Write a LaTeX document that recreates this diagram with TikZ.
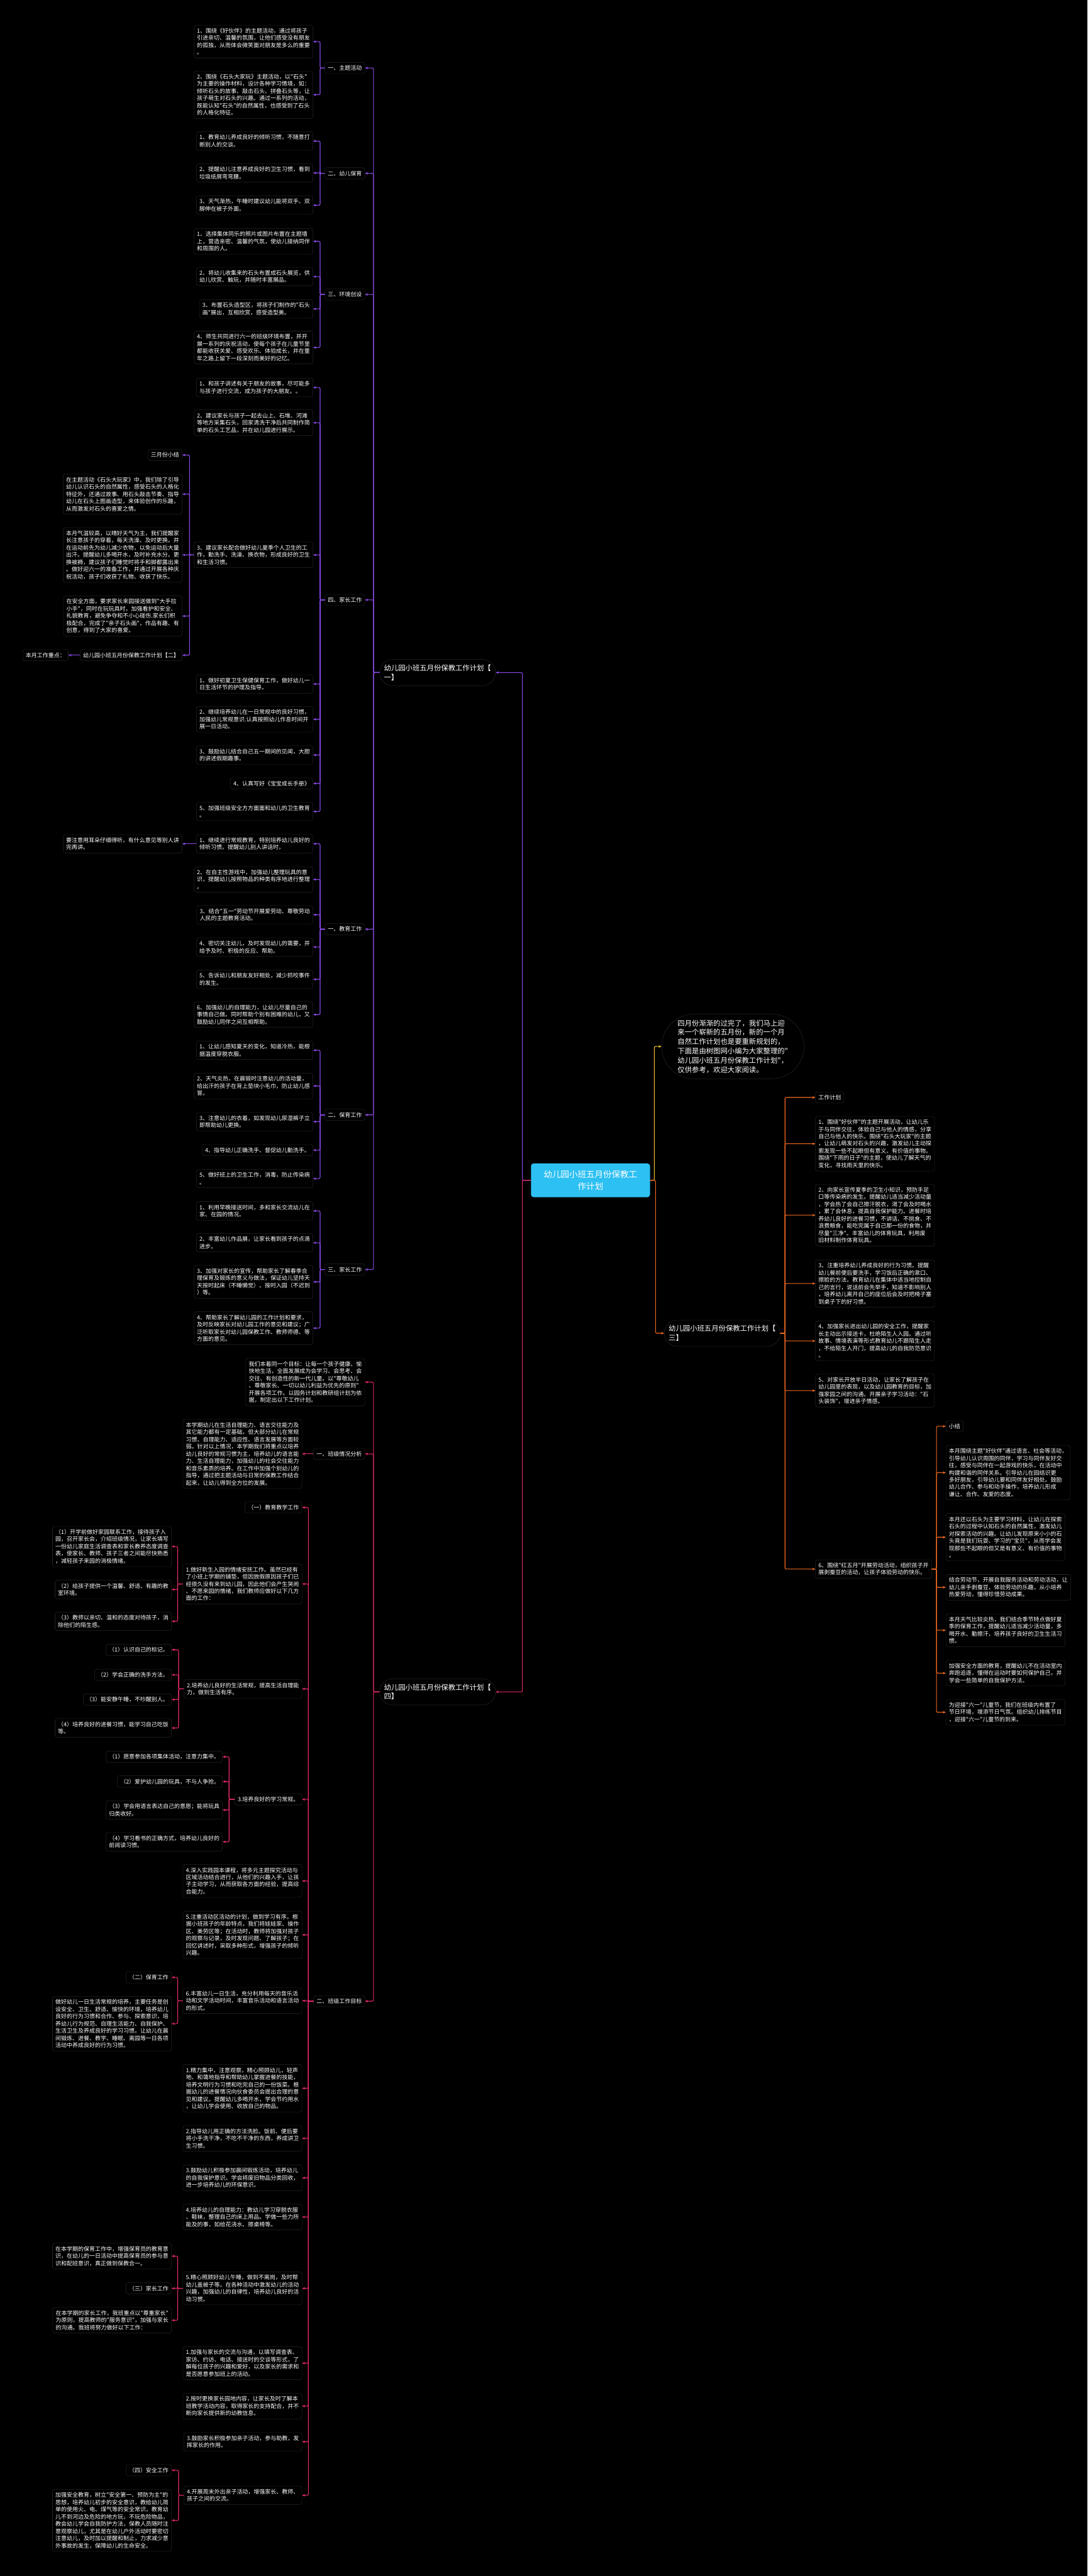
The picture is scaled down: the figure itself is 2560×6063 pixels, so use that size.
\documentclass[tikz,border=0pt]{standalone}
\usepackage{fontspec}
\newfontfamily\cjk{Noto Sans CJK SC}
\usetikzlibrary{arrows.meta,shapes.misc}
\definecolor{pur}{HTML}{8A4BE8}
\definecolor{pnk}{HTML}{E5286E}
\definecolor{org}{HTML}{F26A21}
\definecolor{yel}{HTML}{F5C32C}
\definecolor{cya}{HTML}{2DC0F2}
\definecolor{bord}{HTML}{262626}
\begin{document}
\begin{tikzpicture}[x=1pt,y=-1pt,
  tbox/.style={draw=bord, line width=0.8pt, fill=black, rounded corners=5pt, text=white,
    font=\cjk\fontsize{13.3}{17}\selectfont, align=left, inner xsep=7pt, inner ysep=7pt},
  pill/.style={shape=rounded rectangle, draw=bord, line width=0.8pt, fill=black, text=white,
    font=\cjk\fontsize{16.8}{22}\selectfont, align=left, inner xsep=4pt, inner ysep=12pt},
  rootbox/.style={fill=cya, rounded corners=6pt, text=white,
    font=\cjk\fontsize{20}{27}\selectfont, align=center, inner xsep=30pt, inner ysep=17pt},
  conn/.style={line width=1.6pt, rounded corners=3pt, -{Stealth[length=7pt,width=6pt]}},
  cp/.style={conn, draw=pur},
  ck/.style={conn, draw=pnk},
  co/.style={conn, draw=org},
  cy/.style={conn, draw=yel}]
\useasboundingbox (0,0) rectangle (2560,6063);
\fill[black] (0,0) rectangle (2560,6063);

% ---------- root ----------
\node[rootbox, anchor=east] (root) at (1530,2778) {幼儿园小班五月份保教工\\作计划};

% ---------- branch one ----------
\node[pill, anchor=west] (one) at (893,1583) {幼儿园小班五月份保教工作计划【\\一】};
\node[tbox, anchor=east] (L1) at (859,160) {一、主题活动};
\node[tbox, anchor=east] (L2) at (859,408) {二、幼儿保育};
\node[tbox, anchor=east] (L3) at (859,693) {三、环境创设};
\node[tbox, anchor=east] (L4) at (859,1412) {四、家长工作};
\node[tbox, anchor=east] (L5) at (859,2187) {一、教育工作};
\node[tbox, anchor=east] (L6) at (859,2624) {二、保育工作};
\node[tbox, anchor=east] (L7) at (859,2988) {三、家长工作};

\node[tbox, anchor=east] (a1) at (737,98) {1、围绕《好伙伴》的主题活动，通过将孩子\\引进亲切、温馨的氛围，让他们感受没有朋友\\的孤独，从而体会微笑面对朋友是多么的重要\\。};
\node[tbox, anchor=east] (a2) at (737,223) {2、围绕《石头大家玩》主题活动，以"石头"\\为主要的操作材料，设计各种学习情境，如：\\倾听石头的故事、敲击石头、拼叠石头等，让\\孩子萌生对石头的兴趣。通过一系列的活动，\\既能认知"石头"的自然属性，也感受到了石头\\的人格化特征。};
\node[tbox, anchor=east] (b1) at (737,332) {1、教育幼儿养成良好的倾听习惯，不随意打\\断别人的交谈。};
\node[tbox, anchor=east] (b2) at (737,407) {2、提醒幼儿注意养成良好的卫生习惯，看到\\垃圾纸屑弯弯腰。};
\node[tbox, anchor=east] (b3) at (737,483) {3、天气渐热，午睡时建议幼儿能将双手、双\\脚伸在被子外面。};
\node[tbox, anchor=east] (c1) at (737,568) {1、选择集体同乐的照片或图片布置在主题墙\\上，营造亲密、温馨的气氛，使幼儿接纳同伴\\和周围的人。};
\node[tbox, anchor=east] (c2) at (737,651) {2、将幼儿收集来的石头布置成石头展览，供\\幼儿欣赏、触玩，并随时丰富展品。};
\node[tbox, anchor=east] (c3) at (737,727) {3、布置石头造型区，将孩子们制作的"石头\\画"展出，互相欣赏，感受造型美。};
\node[tbox, anchor=east] (c4) at (737,818) {4、师生共同进行六一的班级环境布置，并开\\展一系列的庆祝活动，使每个孩子在儿童节里\\都能收获关爱、感受欢乐、体验成长，并在童\\年之路上留下一段深刻而美好的记忆。};
\node[tbox, anchor=east] (d1) at (737,912) {1、和孩子讲述有关于朋友的故事，尽可能多\\与孩子进行交流，成为孩子的大朋友。。};
\node[tbox, anchor=east] (d2) at (737,995) {2、建议家长与孩子一起去山上、石堆、河滩\\等地方采集石头，回家清洗干净后共同制作简\\单的石头工艺品，并在幼儿园进行展示。};
\node[tbox, anchor=east] (d3) at (737,1306) {3、建议家长配合做好幼儿夏季个人卫生的工\\作，勤洗手、洗澡、换衣物，形成良好的卫生\\和生活习惯。};
\node[tbox, anchor=east] (d4) at (737,1610) {1、做好初夏卫生保健保育工作，做好幼儿一\\日生活环节的护理及指导。};
\node[tbox, anchor=east] (d5) at (737,1693) {2、继续培养幼儿在一日常规中的良好习惯，\\加强幼儿常规意识.认真按照幼儿作息时间开\\展一日活动。};
\node[tbox, anchor=east] (d6) at (737,1777) {3、鼓励幼儿结合自己五一期间的见闻，大胆\\的讲述假期趣事。};
\node[tbox, anchor=east] (d7) at (737,1844) {4、认真写好《宝宝成长手册》};
\node[tbox, anchor=east] (d8) at (737,1910) {5、加强班级安全方方面面和幼儿的卫生教育\\。};

\node[tbox, anchor=east] (e0) at (429,1071) {三月份小结};
\node[tbox, anchor=east] (e1) at (429,1163) {在主题活动《石头大玩家》中，我们除了引导\\幼儿认识石头的自然属性，感受石头的人格化\\特征外，还通过故事、用石头敲击节奏、指导\\幼儿在石头上图画造型，来体验创作的乐趣，\\从而激发对石头的喜爱之情。};
\node[tbox, anchor=east] (e2) at (429,1306) {本月气温较高，以晴好天气为主，我们提醒家\\长注意孩子的穿着，每天洗澡、及时更换。并\\在运动前先为幼儿减少衣物，以免运动后大量\\出汗。提醒幼儿多喝开水，及时补充水分。更\\换被褥，建议孩子们睡觉时将手和脚都露出来\\。做好迎六一的准备工作，并通过开展各种庆\\祝活动，孩子们收获了礼物、收获了快乐。};
\node[tbox, anchor=east] (e3) at (429,1450) {在安全方面，要求家长来园接送做到"大手拉\\小手"，同时在玩玩具时，加强看护和安全、\\礼貌教育，避免争夺和不小心碰伤.家长们积\\极配合，完成了"亲子石头画"，作品有趣、有\\创意，得到了大家的喜爱。};
\node[tbox, anchor=east] (e4) at (429,1542) {幼儿园小班五月份保教工作计划【二】};
\node[tbox, anchor=east] (e5) at (161,1542) {本月工作重点：};

\node[tbox, anchor=east] (f1) at (737,1986) {1、继续进行常规教育，特别培养幼儿良好的\\倾听习惯。提醒幼儿别人讲话时，};
\node[tbox, anchor=east] (f1a) at (429,1986) {要注意用耳朵仔细得听，有什么意见等别人讲\\完再讲。};
\node[tbox, anchor=east] (f2) at (737,2070) {2、在自主性游戏中，加强幼儿整理玩具的意\\识，提醒幼儿按照物品的种类有序地进行整理\\。};
\node[tbox, anchor=east] (f3) at (737,2153) {3、结合"五一"劳动节开展爱劳动、尊敬劳动\\人民的主题教育活动。};
\node[tbox, anchor=east] (f4) at (737,2229) {4、密切关注幼儿，及时发现幼儿的需要，并\\给予及时、积极的反应、帮助。};
\node[tbox, anchor=east] (f5) at (737,2305) {5、告诉幼儿和朋友友好相处，减少抓咬事件\\的发生。};
\node[tbox, anchor=east] (f6) at (737,2388) {6、加强幼儿的自理能力，让幼儿尽量自己的\\事情自己做。同时帮助个别有困难的幼儿，又\\鼓励幼儿同伴之间互相帮助。};
\node[tbox, anchor=east] (g1) at (737,2472) {1、让幼儿感知夏天的变化，知道冷热，能根\\据温度穿脱衣服。};
\node[tbox, anchor=east] (g2) at (737,2556) {2、天气炎热，在晨锻时注意幼儿的活动量，\\给出汗的孩子在背上垫块小毛巾，防止幼儿感\\冒。};
\node[tbox, anchor=east] (g3) at (737,2640) {3、注意幼儿的衣着，如发现幼儿尿湿裤子立\\即帮助幼儿更换。};
\node[tbox, anchor=east] (g4) at (737,2707) {4、指导幼儿正确洗手、督促幼儿勤洗手。};
\node[tbox, anchor=east] (g5) at (737,2774) {5、做好班上的卫生工作，消毒，防止传染病\\。};
\node[tbox, anchor=east] (h1) at (737,2850) {1、利用早晚接送时间，多和家长交流幼儿在\\家、在园的情况。};
\node[tbox, anchor=east] (h2) at (737,2925) {2、丰富幼儿作品展，让家长看到孩子的点滴\\进步。};
\node[tbox, anchor=east] (h3) at (737,3017) {3、加强对家长的宣传，帮助家长了解春季合\\理保育及锻炼的意义与做法，保证幼儿坚持天\\天按时起床（不睡懒觉）、按时入园（不迟到\\）等。};
\node[tbox, anchor=east] (h4) at (737,3126) {4、帮助家长了解幼儿园的工作计划和要求，\\及时反映家长对幼儿园工作的意见和建议；广\\泛听取家长对幼儿园保教工作、教师师德、等\\方面的意见。};

\foreach \c in {L1,L2,L3,L4,L5,L6,L7} \draw[cp] (one.west) -- ++(-14,0) |- (\c.east);
\foreach \c in {a1,a2} \draw[cp] (L1.west) -- ++(-11,0) |- (\c.east);
\foreach \c in {b1,b2,b3} \draw[cp] (L2.west) -- ++(-11,0) |- (\c.east);
\foreach \c in {c1,c2,c3,c4} \draw[cp] (L3.west) -- ++(-11,0) |- (\c.east);
\foreach \c in {d1,d2,d3,d4,d5,d6,d7,d8} \draw[cp] (L4.west) -- ++(-11,0) |- (\c.east);
\foreach \c in {e0,e1,e2,e3,e4} \draw[cp] (d3.west) -- ++(-10,0) |- (\c.east);
\draw[cp] (e4.west) -- (e5.east);
\draw[cp] (f1.west) -- (f1a.east);
\foreach \c in {f1,f2,f3,f4,f5,f6} \draw[cp] (L5.west) -- ++(-11,0) |- (\c.east);
\foreach \c in {g1,g2,g3,g4,g5} \draw[cp] (L6.west) -- ++(-11,0) |- (\c.east);
\foreach \c in {h1,h2,h3,h4} \draw[cp] (L7.west) -- ++(-11,0) |- (\c.east);

% ---------- branch four ----------
\node[pill, anchor=west] (four) at (893,3982) {幼儿园小班五月份保教工作计划【\\四】};
\node[tbox, anchor=east] (p0) at (859,3253) {我们本着同一个目标：让每一个孩子健康、愉\\快地生活，全面发展成为会学习、会思考、会\\交往、有创造性的新一代儿童。以"尊敬幼儿\\、尊敬家长、一切以幼儿利益为优先的原则"\\开展各项工作。以园务计划和教研组计划为依\\据，制定出以下工作计划。};
\node[tbox, anchor=east] (p1) at (859,3422) {一、班级情况分析};
\node[tbox, anchor=east] (p1a) at (711,3422) {本学期幼儿在生活自理能力、语言交往能力及\\其它能力都有一定基础，但大部分幼儿在常规\\习惯、自理能力、适应性、语言发展等方面较\\弱。针对以上情况，本学期我们将重点以培养\\幼儿良好的常规习惯为主，培养幼儿的语言能\\力、生活自理能力，加强幼儿的社会交往能力\\和音乐素质的培养。在工作中加强个别幼儿的\\指导，通过把主题活动与日常的保教工作结合\\起来，让幼儿得到全方位的发展。};
\node[tbox, anchor=east] (p2) at (859,4710) {二、班级工作目标};

\node[tbox, anchor=east] (q0) at (711,3548) {（一）教育教学工作};
\node[tbox, anchor=east] (q1) at (711,3728) {1.做好新生入园的情绪安抚工作。虽然已经有\\了小班上学期的铺垫，但因放假原因孩子们已\\经很久没有来到幼儿园，因此他们会产生哭闹\\、不愿来园的情绪，我们教师应做好以下几方\\面的工作：};
\node[tbox, anchor=east] (q1a) at (404,3640) {（1）开学前做好家园联系工作，接待孩子入\\园，召开家长会，介绍班级情况，让家长填写\\一份幼儿家庭生活调查表和家长教养态度调查\\表，使家长、教师、孩子三者之间能尽快熟悉\\，减轻孩子来园的消极情绪。};
\node[tbox, anchor=east] (q1b) at (404,3741) {（2）给孩子提供一个温馨、舒适、有趣的教\\室环境。};
\node[tbox, anchor=east] (q1c) at (404,3816) {（3）教师以亲切、温和的态度对待孩子，消\\除他们的陌生感。};
\node[tbox, anchor=east] (q2) at (711,3975) {2.培养幼儿良好的生活常规，提高生活自理能\\力，做到生活有序。};
\node[tbox, anchor=east] (q2a) at (404,3883) {（1）认识自己的标记。};
\node[tbox, anchor=east] (q2b) at (404,3942) {（2）学会正确的洗手方法。};
\node[tbox, anchor=east] (q2c) at (404,4000) {（3）能安静午睡，不吵醒别人。};
\node[tbox, anchor=east] (q2d) at (404,4067) {（4）培养良好的进餐习惯，能学习自己吃饭\\等。};
\node[tbox, anchor=east] (q3) at (711,4235) {3.培养良好的学习常规。};
\node[tbox, anchor=east] (q3a) at (524,4135) {（1）愿意参加各项集体活动，注意力集中。};
\node[tbox, anchor=east] (q3b) at (524,4193) {（2）爱护幼儿园的玩具，不与人争抢。};
\node[tbox, anchor=east] (q3c) at (524,4260) {（3）学会用语言表达自己的意愿；能将玩具\\归类收好。};
\node[tbox, anchor=east] (q3d) at (524,4335) {（4）学习看书的正确方式，培养幼儿良好的\\前阅读习惯。};
\node[tbox, anchor=east] (q4) at (711,4427) {4.深入实践园本课程，将多元主题探究活动与\\区域活动结合进行，从他们的兴趣入手，让孩\\子主动学习，从而获取各方面的经验，提高综\\合能力。};
\node[tbox, anchor=east] (q5) at (711,4554) {5.注重活动区活动的计划，做到学习有序。根\\据小班孩子的年龄特点，我们将娃娃家、操作\\区、美劳区等；在活动时，教师将加强对孩子\\的观察与记录，及时发现问题、了解孩子；在\\回忆讲述时，采取多种形式，增强孩子的倾听\\兴趣。};
\node[tbox, anchor=east] (q6) at (711,4709) {6.丰富幼儿一日生活，充分利用每天的音乐活\\动和文学活动时间，丰富音乐活动和语言活动\\的形式。};
\node[tbox, anchor=east] (q6a) at (404,4654) {（二）保育工作};
\node[tbox, anchor=east] (q6b) at (404,4763) {做好幼儿一日生活常规的培养，主要任务是创\\设安全、卫生、舒适、愉快的环境，培养幼儿\\良好的行为习惯和合作、参与、探索意识，培\\养幼儿行为规范、自理生活能力、自我保护、\\生活卫生及养成良好的学习习惯。让幼儿在晨\\间锻炼、进餐、教学、睡眠、离园等一日各项\\活动中养成良好的行为习惯。};
\node[tbox, anchor=east] (q7) at (711,4915) {1.精力集中，注意观察，精心照顾幼儿，轻声\\地、和蔼地指导和帮助幼儿掌握进餐的技能，\\培养文明行为习惯和吃完自己的一份饭菜。根\\据幼儿的进餐情况向伙食委员会提出合理的意\\见和建议。提醒幼儿多喝开水，学会节约用水\\，让幼儿学会使用、收放自己的物品。};
\node[tbox, anchor=east] (q8) at (711,5033) {2.指导幼儿用正确的方法洗脸。饭前、便后要\\将小手洗干净，不吃不干净的东西，养成讲卫\\生习惯。};
\node[tbox, anchor=east] (q9) at (711,5126) {3.鼓励幼儿积极参加晨间锻炼活动，培养幼儿\\的自我保护意识。学会将废旧物品分类回收，\\进一步培养幼儿的环保意识。};
\node[tbox, anchor=east] (q10) at (711,5218) {4.培养幼儿的自理能力：教幼儿学习穿脱衣服\\、鞋袜，整理自己的床上用品。学做一些力所\\能及的事，如给花浇水、擦桌椅等。};
\node[tbox, anchor=east] (q11) at (711,5386) {5.精心照顾好幼儿午睡，做到不离岗，及时帮\\幼儿盖被子等。在各种活动中激发幼儿的活动\\兴趣，加强幼儿的自律性，培养幼儿良好的活\\动习惯。};
\node[tbox, anchor=east] (q11a) at (404,5310) {在本学期的保育工作中，增强保育员的教育意\\识，在幼儿的一日活动中提高保育员的参与意\\识和配班意识，真正做到保教合一。};
\node[tbox, anchor=east] (q11b) at (404,5386) {（三）家长工作};
\node[tbox, anchor=east] (q11c) at (404,5461) {在本学期的家长工作，我班重点以"尊重家长"\\为原则，提高教师的"服务意识"，加强与家长\\的沟通。我班将努力做好以下工作：};
\node[tbox, anchor=east] (q12) at (711,5562) {1.加强与家长的交流与沟通，以填写调查表、\\家访、约访、电话、接送时的交谈等形式，了\\解每位孩子的兴趣和爱好，以及家长的需求和\\是否愿意参加班上的活动。};
\node[tbox, anchor=east] (q13) at (711,5663) {2.按时更换家长园地内容，让家长及时了解本\\班教学活动内容，取得家长的支持配合，并不\\断向家长提供新的幼教信息。};
\node[tbox, anchor=east] (q14) at (711,5747) {3.鼓励家长积极参加亲子活动，参与助教，发\\挥家长的作用。};
\node[tbox, anchor=east] (q15) at (711,5873) {4.开展周末外出亲子活动，增强家长、教师、\\孩子之间的交流。};
\node[tbox, anchor=east] (q15a) at (404,5814) {（四）安全工作};
\node[tbox, anchor=east] (q15b) at (404,5932) {加强安全教育，树立"安全第一、预防为主"的\\思想，培养幼儿初步的安全意识，教给幼儿简\\单的使用火、电、煤气等的安全常识，教育幼\\儿不到河边及危险的地方玩，不玩危险物品，\\教会幼儿学会自我防护方法，保教人员随时注\\意观察幼儿，尤其是在幼儿户外活动时要密切\\注意幼儿，及时加以提醒和制止，力求减少意\\外事故的发生，保障幼儿的生命安全。};

\foreach \c in {p0,p1,p2} \draw[ck] (four.west) -- ++(-14,0) |- (\c.east);
\draw[ck] (p1.west) -- (p1a.east);
\foreach \c in {q0,q1,q2,q3,q4,q5,q6,q7,q8,q9,q10,q11,q12,q13,q14,q15} \draw[ck] (p2.west) -- ++(-12,0) |- (\c.east);
\foreach \c in {q1a,q1b,q1c} \draw[ck] (q1.west) -- ++(-12,0) |- (\c.east);
\foreach \c in {q2a,q2b,q2c,q2d} \draw[ck] (q2.west) -- ++(-12,0) |- (\c.east);
\foreach \c in {q3a,q3b,q3c,q3d} \draw[ck] (q3.west) -- ++(-13,0) |- (\c.east);
\foreach \c in {q6a,q6b} \draw[ck] (q6.west) -- ++(-12,0) |- (\c.east);
\foreach \c in {q11a,q11b,q11c} \draw[ck] (q11.west) -- ++(-12,0) |- (\c.east);
\foreach \c in {q15a,q15b} \draw[ck] (q15.west) -- ++(-12,0) |- (\c.east);

% ---------- right side ----------
\node[pill, anchor=west, inner ysep=13pt] (intro) at (1557,2463) {四月份渐渐的过完了，我们马上迎\\来一个崭新的五月份，新的一个月\\自然工作计划也是要重新规划的，\\下面是由树图网小编为大家整理的"\\幼儿园小班五月份保教工作计划"，\\仅供参考，欢迎大家阅读。};
\node[pill, anchor=west] (three) at (1563,3138) {幼儿园小班五月份保教工作计划【\\三】};
\node[tbox, anchor=west] (r0) at (1919,2583) {工作计划};
\node[tbox, anchor=west] (r1) at (1919,2692) {1、围绕"好伙伴"的主题开展活动，让幼儿乐\\于与同伴交往，体验自己与他人的情感，分享\\自己与他人的快乐。围绕"石头大玩家"的主题\\，让幼儿萌发对石头的兴趣，激发幼儿主动探\\索发现一些不起眼但有意义、有价值的事物。\\围绕"下雨的日子"的主题，使幼儿了解天气的\\变化，寻找雨天里的快乐。};
\node[tbox, anchor=west] (r2) at (1919,2860) {2、向家长宣传夏季的卫生小知识，预防手足\\口等传染病的发生。提醒幼儿适当减少活动量\\，学会热了会自己擦汗脱衣，渴了会及时喝水\\，累了会休息，提高自我保护能力。进餐时培\\养幼儿良好的进餐习惯，不讲话、不挑食、不\\浪费粮食，能吃完属于自己那一份的食物，并\\尽量"三净"。丰富幼儿的体育玩具，利用废\\旧材料制作体育玩具。};
\node[tbox, anchor=west] (r3) at (1919,3021) {3、注重培养幼儿养成良好的行为习惯。提醒\\幼儿餐前便后要洗手，学习饭后正确的漱口、\\擦脸的方法。教育幼儿在集体中适当地控制自\\己的言行，说话前会先举手，知道不影响别人\\，培养幼儿离开自己的座位后会及时把椅子塞\\到桌子下的好习惯。};
\node[tbox, anchor=west] (r4) at (1919,3156) {4、加强家长进出幼儿园的安全工作，提醒家\\长主动出示接送卡，杜绝陌生人入园。通过听\\故事、情境表演等形式教育幼儿不跟陌生人走\\，不给陌生人开门，提高幼儿的自我防范意识\\。};
\node[tbox, anchor=west] (r5) at (1919,3273) {5、对家长开放半日活动，让家长了解孩子在\\幼儿园里的表现，以及幼儿园教育的目标，加\\强家园之间的沟通。开展亲子学习活动："石\\头装饰"，增进亲子情感。};
\node[tbox, anchor=west] (r6) at (1919,3693) {6、围绕"红五月"开展劳动活动，组织孩子开\\展剥蚕豆的活动，让孩子体验劳动的快乐。};
\node[tbox, anchor=west] (s0) at (2226,3357) {小结};
\node[tbox, anchor=west] (s1) at (2226,3466) {本月围绕主题"好伙伴"通过语言、社会等活动，\\引导幼儿认识周围的同伴，学习与同伴友好交\\往，感受与同伴在一起游戏的快乐，在活动中\\构建和谐的同伴关系。引导幼儿在园结识更\\多好朋友，引导幼儿要和同伴友好相处。鼓励\\幼儿合作、参与和动手操作，培养幼儿形成\\谦让、合作、友爱的态度。};
\node[tbox, anchor=west] (s2) at (2226,3618) {本月还以石头为主要学习材料，让幼儿在探索\\石头的过程中认知石头的自然属性，激发幼儿\\对探索活动的兴趣。让幼儿发现原来小小的石\\头竟是我们玩耍、学习的"宝贝"，从而学会发\\现那些不起眼的但又是有意义、有价值的事物\\。};
\node[tbox, anchor=west] (s3) at (2226,3736) {结合劳动节，开展自我服务活动和劳动活动，让\\幼儿亲手剥蚕豆，体验劳动的乐趣，从小培养\\热爱劳动，懂得珍惜劳动成果。};
\node[tbox, anchor=west] (s4) at (2226,3837) {本月天气比较炎热，我们结合季节特点做好夏\\季的保育工作，提醒幼儿适当减少活动量，多\\喝开水、勤擦汗，培养孩子良好的卫生生活习\\惯。};
\node[tbox, anchor=west] (s5) at (2226,3938) {加强安全方面的教育，提醒幼儿不在活动室内\\奔跑追逐，懂得在运动时要如何保护自己，并\\学会一些简单的自我保护方法。};
\node[tbox, anchor=west] (s6) at (2226,4030) {为迎接"六一"儿童节，我们在班级内布置了\\节日环境，增添节日气氛。组织幼儿排练节目\\，迎接"六一"儿童节的到来。};

\foreach \c in {r0,r1,r2,r3,r4,r5,r6} \draw[co] (three.east) -- ++(11,0) |- (\c.west);
\foreach \c in {s0,s1,s2,s3,s4,s5,s6} \draw[co] (r6.east) -- ++(11,0) |- (\c.west);

% ---------- root connectors ----------
\draw[cp] (root.west) -- ++(-20,0) |- (one.east);
\draw[ck] (root.west) -- ++(-20,0) |- (four.east);
\draw[cy] (root.east) -- ++(10,0) |- (intro.west);
\draw[co] (root.east) -- ++(13,0) |- (three.west);
\end{tikzpicture}
\end{document}
